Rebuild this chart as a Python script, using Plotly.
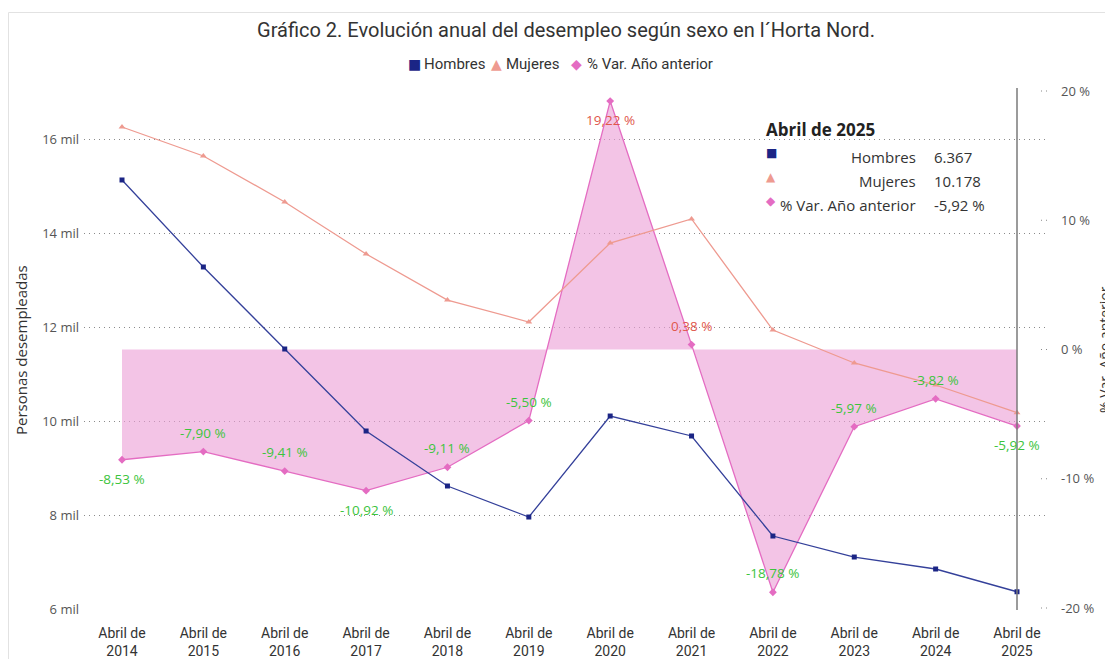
import plotly.graph_objects as go

# ---------------- data ----------------
years = ["2014", "2015", "2016", "2017", "2018", "2019", "2020", "2021", "2022", "2023", "2024", "2025"]
x_labels = ["Abril de<br>" + y for y in years]
hombres = [15128, 13277, 11532, 9787, 8617, 7957, 10106, 9681, 7553, 7106, 6851, 6367]
mujeres = [16255, 15638, 14660, 13553, 12574, 12106, 13787, 14298, 11936, 11234, 10766, 10178]
var_pct = [-8.53, -7.90, -9.41, -10.92, -9.11, -5.50, 19.22, 0.38, -18.78, -5.97, -3.82, -5.92]
label_below = [True, False, False, True, False, False, True, False, False, False, False, True]

left_tickvals = [6000, 8000, 10000, 12000, 14000, 16000]
left_ticktext = ["6 mil", "8 mil", "10 mil", "12 mil", "14 mil", "16 mil"]
right_tickvals = [-20, -10, 0, 10, 20]
right_ticktext = ["-20 %", "-10 %", "0 %", "10 %", "20 %"]

series_names = ["Hombres", "Mujeres", "% Var. Año anterior"]
tooltip_title = "Abril de 2025"
tooltip_values = ["6.367", "10.178", "-5,92 %"]

# ---------------- style ----------------
C_H = "#1B2585"
C_H_LINE = "#34409A"
C_M = "#EE9A90"
C_P = "#E46CC2"
C_FILL = "rgba(236,160,214,0.62)"
C_NEG = "#3CC43C"
C_POS = "#E0574C"
SEG = "Open Sans"
DIN = "Roboto"

W, H = 1113, 659
OFF = 8  # page body margin
# plot area in page (reference) pixels
RL, RR, RT, RB = 84, 1048, 88, 610
L, R, T, B = RL - OFF, RR - OFF, RT - OFF, RB - OFF


def px(x):
    return (x - RL) / (RR - RL)


def py(y):
    return (RB - y) / (RB - RT)


idx = list(range(len(years)))
fig = go.Figure()

# % variation (primary axis on the right, drawn below)
fig.add_trace(go.Scatter(
    x=idx, y=var_pct, mode="lines+markers", fill="tozeroy", fillcolor=C_FILL,
    line=dict(color=C_P, width=1.3), marker=dict(symbol="diamond", size=6, color=C_P),
    yaxis="y", showlegend=False, hoverinfo="skip"))

# people series on left axis (overlaying)
fig.add_trace(go.Scatter(
    x=idx, y=mujeres, mode="lines+markers",
    line=dict(color=C_M, width=1.3), marker=dict(symbol="triangle-up", size=6, color=C_M),
    yaxis="y2", showlegend=False, hoverinfo="skip"))
fig.add_trace(go.Scatter(
    x=idx, y=hombres, mode="lines+markers",
    line=dict(color=C_H_LINE, width=1.3), marker=dict(symbol="square", size=5, color=C_H),
    yaxis="y2", showlegend=False, hoverinfo="skip"))

annotations = []
# data labels for % variation
for i, v in enumerate(var_pct):
    txt = f"{v:.2f}".replace(".", ",") + " %"
    annotations.append(dict(
        x=i, y=v, xref="x", yref="y", text=txt, showarrow=False,
        yshift=-19 if label_below[i] else 19,
        font=dict(family=SEG, size=13.5, color=C_NEG if v < 0 else C_POS)))

glyphs = [("■", C_H), ("▲", C_M), ("◆", C_P)]

# compact legend
leg_glyph_x = [414, 496, 576]
leg_text_x = [422, 504, 585]
for (g, col), gx, tx, name in zip(glyphs, leg_glyph_x, leg_text_x, series_names):
    annotations.append(dict(x=px(gx), y=py(64), xref="paper", yref="paper", text=g, showarrow=False,
                            xanchor="center", yanchor="middle",
                            font=dict(family="DejaVu Sans", size=14, color=col)))
    annotations.append(dict(x=px(tx), y=py(64), xref="paper", yref="paper", text=name, showarrow=False,
                            xanchor="left", yanchor="middle", font=dict(family=DIN, size=15, color="#333")))

# tooltip-like box
annotations.append(dict(x=px(764), y=py(129), xref="paper", yref="paper", text="<b>" + tooltip_title + "</b>",
                        showarrow=False, xanchor="left", yanchor="middle",
                        font=dict(family=SEG, size=17, color="#222")))
mark_y = [153, 177, 201]
row_y = [157, 181, 205]
for (g, col), gy, ry, lab, val in zip(glyphs, mark_y, row_y, series_names, tooltip_values):
    annotations.append(dict(x=px(771), y=py(gy), xref="paper", yref="paper", text=g, showarrow=False,
                            xanchor="center", yanchor="middle", font=dict(family="DejaVu Sans", size=12, color=col)))
    annotations.append(dict(x=px(918), y=py(ry), xref="paper", yref="paper", text=lab, showarrow=False,
                            xanchor="right", yanchor="middle", font=dict(family=SEG, size=15, color="#333")))
    annotations.append(dict(x=px(932), y=py(ry), xref="paper", yref="paper", text=val, showarrow=False,
                            xanchor="left", yanchor="middle", font=dict(family=SEG, size=15, color="#333")))

# right axis title
annotations.append(dict(x=px(1104), y=py(350), xref="paper", yref="paper", text="% Var. Año anterior",
                        textangle=-90, showarrow=False, xanchor="center", yanchor="middle",
                        font=dict(family=SEG, size=14, color="#333")))
# left axis title
annotations.append(dict(x=px(21), y=py(350), xref="paper", yref="paper", text="Personas desempleadas",
                        textangle=-90, showarrow=False, xanchor="center", yanchor="middle",
                        font=dict(family=SEG, size=15, color="#333")))

shapes = []
# short dotted marks near right axis labels
for v in right_tickvals:
    shapes.append(dict(type="line", xref="paper", yref="y", x0=px(1041), x1=px(1051), y0=v, y1=v,
                       line=dict(color="#888", width=1, dash="1px,4px")))
# vertical hover line at last category
shapes.append(dict(type="line", xref="x", yref="paper", x0=idx[-1], x1=idx[-1], y0=0, y1=1,
                   line=dict(color="#7a7a7a", width=1.5)))
# outer border
shapes.append(dict(type="rect", xref="paper", yref="paper", x0=px(8.5), x1=px(1140), y0=py(12.5), y1=py(700),
                   line=dict(color="#e2e2e2", width=1), fillcolor="rgba(0,0,0,0)"))

pad_l = (122 - RL) / ((1017 - 122) / 11)
pad_r = (RR - 1017) / ((1017 - 122) / 11)

fig.update_layout(
    width=W, height=H,
    margin=dict(l=L, r=W - R, t=T, b=H - B),
    paper_bgcolor="white", plot_bgcolor="white",
    showlegend=False,
    title=dict(text="Gráfico 2. Evolución anual del desempleo según sexo en l´Horta Nord.",
               x=0.5, xref="paper", xanchor="center", y=1 - (30 - OFF) / H, yref="container", yanchor="middle",
               font=dict(family=DIN, size=20, color="#333")),
    xaxis=dict(tickvals=idx, ticktext=x_labels, range=[-pad_l, idx[-1] + pad_r], automargin=False,
               showgrid=False, zeroline=False, showline=False, ticks="", ticklabelstandoff=13,
               tickfont=dict(family=DIN, size=14, color="#333")),
    yaxis=dict(side="right", range=[-(RB - 349.5) / 12.925, (349.5 - RT) / 12.925], automargin=False,
               tickvals=right_tickvals, ticktext=right_ticktext, showgrid=False, zeroline=False,
               showline=False, ticks="", ticklabelstandoff=12,
               tickfont=dict(family=SEG, size=13, color="#555")),
    yaxis2=dict(side="left", overlaying="y", range=[6000 - 1000 / 47, 6000 + (609 - RT) / 47 * 1000],
                automargin=False,
                tickvals=left_tickvals, ticktext=left_ticktext, showgrid=True, gridcolor="#8a8a8a",
                gridwidth=1, griddash="1px,4px", zeroline=False, showline=False, ticks="", ticklabelstandoff=4,
                tickfont=dict(family=SEG, size=13, color="#555")),
    annotations=annotations, shapes=shapes, hovermode=False,
)

fig.write_html("out.html")
